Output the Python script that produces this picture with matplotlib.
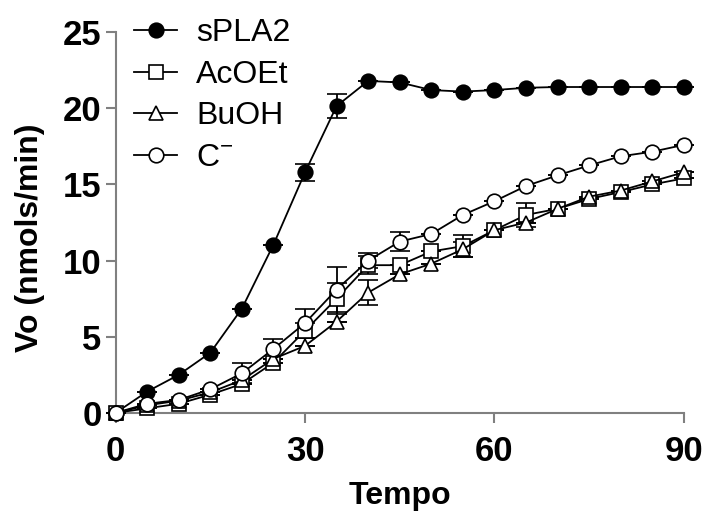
import matplotlib
matplotlib.use('Agg')
from matplotlib import pyplot as plt
from matplotlib.lines import Line2D

plt.rcParams['font.family'] = ['Liberation Sans', 'DejaVu Sans']

# data
tempo = [0, 5, 10, 15, 20, 25, 30, 35, 40, 45, 50, 55, 60, 65, 70, 75, 80, 85, 90]

spla2 = [0, 1.4, 2.5, 3.95, 6.85, 11.05, 15.8, 20.15, 21.8, 21.7, 21.2, 21.1, 21.2, 21.35, 21.4, 21.4, 21.4, 21.4, 21.4]
spla2_err = [0, 0, 0, 0, 0, 0, 0.55, 0.8, 0, 0, 0, 0, 0, 0, 0, 0, 0, 0, 0]

acoet = [0, 0.3, 0.6, 1.2, 1.9, 3.3, 5.4, 7.5, 9.7, 9.7, 10.6, 10.95, 12.0, 13.0, 13.4, 14.05, 14.5, 15.0, 15.4]
acoet_err = [0, 0, 0, 0, 0, 0, 0.5, 1.0, 0.6, 0, 0, 0.7, 0, 0.8, 0, 0, 0, 0, 0]

buoh = [0, 0.5, 0.8, 1.35, 2.15, 3.55, 4.4, 6.0, 7.9, 9.1, 9.8, 10.75, 12.0, 12.5, 13.4, 14.2, 14.6, 15.2, 15.8]
buoh_err = [0, 0, 0, 0, 0, 0, 0, 0, 0.8, 0, 0, 0.5, 0, 0, 0, 0, 0, 0, 0]

c_neg = [0, 0.6, 0.85, 1.55, 2.6, 4.2, 5.9, 8.1, 10.0, 11.25, 11.75, 13.0, 13.9, 14.9, 15.6, 16.25, 16.85, 17.15, 17.6]
c_neg_err = [0, 0, 0, 0, 0.65, 0.65, 0.95, 1.45, 0.5, 0.6, 0, 0, 0, 0, 0, 0, 0, 0, 0]

series = [
    ('sPLA2', spla2, spla2_err, 'o', 'black'),
    ('AcOEt', acoet, acoet_err, 's', 'white'),
    ('BuOH', buoh, buoh_err, '^', 'white'),
    ('C$^{\\mathregular{-}}$', c_neg, c_neg_err, 'o', 'white'),
]

fig = plt.figure(figsize=(7.05, 5.11), dpi=100)
ax = fig.add_axes([0.164, 0.192, 0.806, 0.745])

handles = []
for label, y, err, mk, face in series:
    ms = 10.5 if mk == 'o' else 9.5
    ct = 3 if face == 'black' else 2
    ax.errorbar(tempo, y, yerr=err, fmt='-' + mk, color='black', mfc=face, mec='black',
                ms=ms, mew=1.2, lw=1.3, elinewidth=1.3, capsize=7, capthick=ct,
                clip_on=False, zorder=3)
    handles.append(Line2D([], [], color='black', lw=1.3, marker=mk, mfc=face, mec='black',
                          ms=ms, mew=1.2, label=label))

ax.set_xlim(0, 90)
ax.set_ylim(0, 25)
ax.set_xticks([0, 30, 60, 90])
ax.set_yticks([0, 5, 10, 15, 20, 25])

for s in ['top', 'right']:
    ax.spines[s].set_visible(False)
for s in ['left', 'bottom']:
    ax.spines[s].set_color('#808080')
    ax.spines[s].set_linewidth(1.5)

ax.tick_params(axis='both', direction='out', length=7, width=1.5, color='#808080',
               labelsize=25)
ax.tick_params(axis='x', pad=9)
ax.tick_params(axis='y', pad=3)
for t in ax.get_xticklabels() + ax.get_yticklabels():
    t.set_fontweight('bold')

ax.set_xlabel('Tempo', fontsize=23, fontweight='bold', labelpad=9)
ax.set_ylabel('Vo (nmols/min)', fontsize=23, fontweight='bold')
ax.yaxis.set_label_coords(-0.124, 0.46)

ax.legend(handles=handles, loc='upper left', bbox_to_anchor=(0.01, 1.07), frameon=False,
          fontsize=23, handlelength=1.35, handletextpad=0.6, labelspacing=0.36,
          borderaxespad=0)

fig.savefig('out.png', dpi=100)
